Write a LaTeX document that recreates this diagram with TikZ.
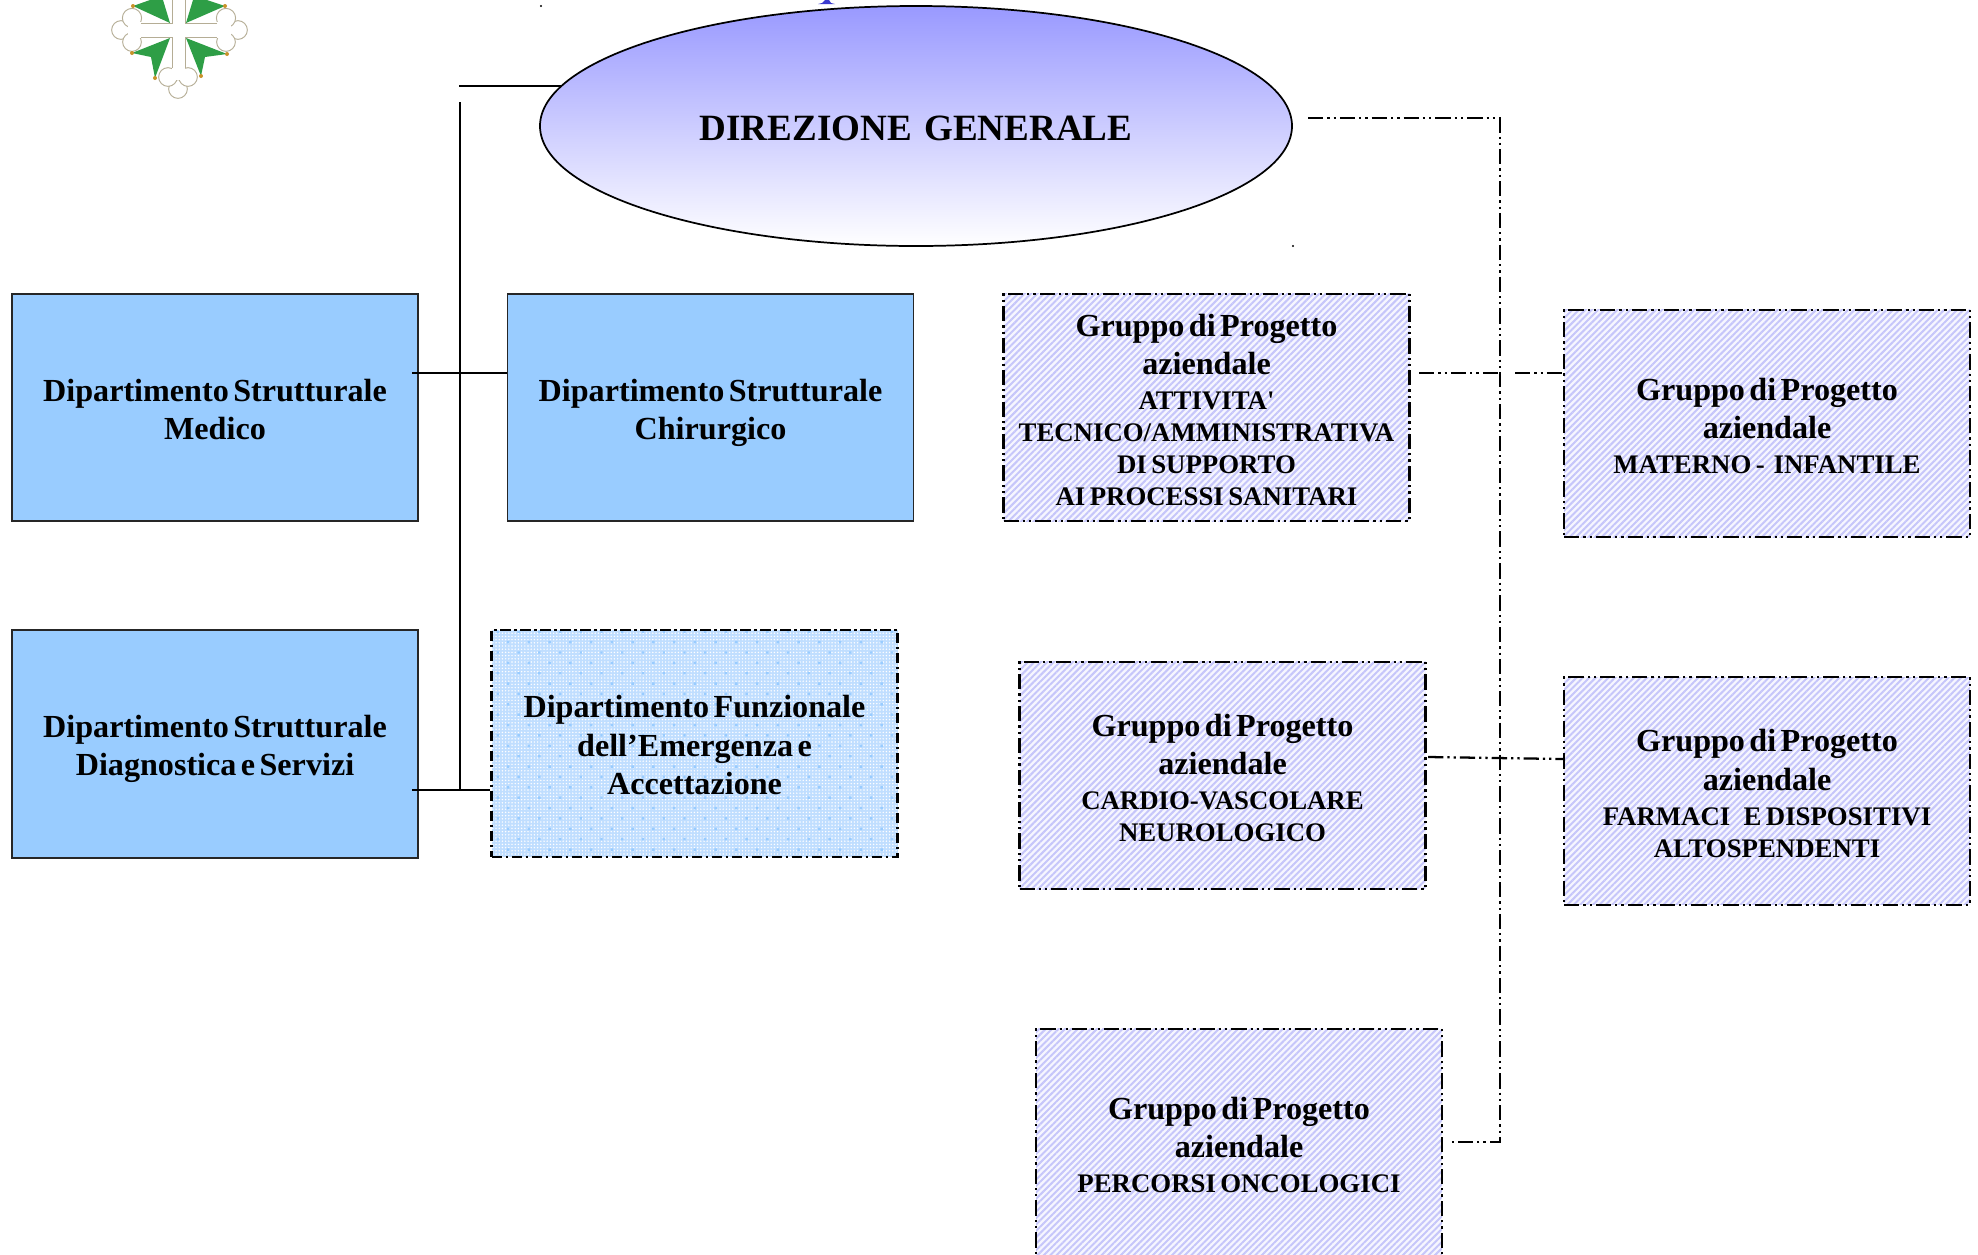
\documentclass[tikz,border=0pt]{standalone}
\usepackage{fontspec}
\setmainfont[WordSpace=1.35]{Liberation Serif}
\usetikzlibrary{patterns.meta,shapes.geometric}
\definecolor{deptblue}{HTML}{99CCFF}
\definecolor{ovaltop}{HTML}{9999FF}
\definecolor{hatchbase}{HTML}{F6F6FF}
\definecolor{hatchline}{HTML}{C6C6FA}
\definecolor{dotbase}{HTML}{C0DEFF}
\definecolor{logogreen}{HTML}{2E9E46}
\definecolor{logoline}{HTML}{B5AD95}
\definecolor{logogold}{HTML}{C8922A}
\definecolor{glyphblue}{HTML}{3A3ACF}
\newcommand{\headtxt}[1]{{\fontsize{24.1pt}{28.6pt}\selectfont\bfseries\rule{0pt}{27.5pt}#1\strut\par}}
\newcommand{\subtxt}[1]{{\fontsize{20.1pt}{24pt}\selectfont\bfseries\strut #1\strut\par}}
\tikzset{
  x=0.75pt,y=-0.75pt,
  boxbase/.style={rectangle,align=center,inner sep=0pt,minimum width=304.5pt,minimum height=170.5pt,text width=300pt,font=\bfseries},
  dd/.style={line width=1.7pt,dash pattern=on 11.5pt off 3pt on 1.7pt off 3pt on 1.7pt off 3pt},
  solidbox/.style={boxbase,draw=black!85,line width=1.3pt,fill=deptblue},
  hatchbox/.style={boxbase,dd,draw=black,preaction={fill=hatchbase},
    preaction={pattern={Lines[angle=45,distance=3.4pt,line width=1.5pt]},pattern color=hatchline}},
  dotbox/.style={boxbase,line width=1.7pt,draw=black,dash pattern=on 8pt off 2.5pt on 2pt off 2.5pt,preaction={fill=dotbase},
    preaction={pattern={Dots[distance=2.4pt,radius=0.6pt]},pattern color=white},
    preaction={pattern={Dots[distance=11pt,radius=1.3pt,angle=45]},pattern color=deptblue}},
  solidline/.style={line width=1.2pt,draw=black},
  ddline/.style={dd,draw=black},
  lobe/.style={draw=logoline,fill=white,line width=0.7pt},
  leaf/.style={fill=logogreen,draw=none},
  tip/.style={fill=logogold,draw=none},
}
\begin{document}
\begin{tikzpicture}
\clip (0,0) rectangle (1978,1254);
\fill[white] (0,0) rectangle (1978,1254);

% logo
\foreach \p in {121,238}{\filldraw[lobe] (\p,30) circle (7pt);}
\foreach \p in {132,226}{\filldraw[lobe] (\p,18) circle (7.2pt);\filldraw[lobe] (\p,42) circle (7pt);}
\filldraw[lobe] (178,89) circle (7pt);
\filldraw[lobe] (168,77) circle (7pt);
\filldraw[lobe] (188,77) circle (7pt);
\fill[white] (172,0) rectangle (185,80);
\fill[white] (128,22) rectangle (231,38);
\draw[logoline,line width=0.7pt] (141,23) -- (172,23) -- (172,0);
\draw[logoline,line width=0.7pt] (217,23) -- (185,23) -- (185,0);
\draw[logoline,line width=0.7pt] (141,37) -- (172,37) -- (172,68);
\draw[logoline,line width=0.7pt] (217,37) -- (185,37) -- (185,68);
\fill[leaf] (170,23) -- (133,6) -- (150,0) -- (163,0) -- cycle;
\fill[leaf] (186,23) -- (225,6) -- (207,0) -- (193,0) -- cycle;
\fill[leaf] (170,38) -- (132,53) -- (151,57) -- (155,78) -- cycle;
\fill[leaf] (186,38) -- (227,54) -- (205,57) -- (201,76) -- cycle;
\foreach \a/\b in {133/6,132/53,155/78,225/6,227/54,201/76}{\fill[tip] (\a,\b) circle (1.5pt);}

% specks and the cropped glyph at the top edge
\fill[black] (541,6) circle (0.9pt);
\fill[black] (1293,246) circle (0.9pt);
\fill[glyphblue] (818,4) -- (822,3) -- (825,0) -- (829,0) -- (831,3) -- (835,4) -- cycle;

% nodes
\node[ellipse,draw=black,line width=1.3pt,inner sep=0pt,minimum width=564pt,minimum height=180pt,
  top color=ovaltop,bottom color=white,font=\fontsize{27.8pt}{32pt}\selectfont\bfseries] (dg) at (916,126) {\rule{0pt}{22pt}DIREZIONE GENERALE};

\node[solidbox] (med) at (215,407.5) {\headtxt{Dipartimento Strutturale\\Medico}};
\node[solidbox] (chi) at (710.5,407.5) {\headtxt{Dipartimento Strutturale\\Chirurgico}};
\node[solidbox] (dia) at (215,744) {\headtxt{Dipartimento Strutturale\\Diagnostica e Servizi}};
\node[dotbox] (fun) at (694.5,743.5) {\headtxt{Dipartimento Funzionale\\dell’Emergenza e\\Accettazione}};

\node[hatchbox] (att) at (1206.5,407.5) {\headtxt{Gruppo di Progetto\\aziendale}\subtxt{ATTIVITA\textquotesingle\\TECNICO/AMMINISTRATIVA\\DI SUPPORTO\\AI PROCESSI SANITARI}};
\node[hatchbox] (mat) at (1767,423.5) {\headtxt{Gruppo di Progetto\\aziendale}\subtxt{MATERNO -\ \ INFANTILE}};
\node[hatchbox] (car) at (1222.5,775.5) {\headtxt{Gruppo di Progetto\\aziendale}\subtxt{CARDIO-VASCOLARE\\NEUROLOGICO}};
\node[hatchbox] (far) at (1767,791) {\headtxt{Gruppo di Progetto\\aziendale}\subtxt{FARMACI\ \ \ E DISPOSITIVI\\ALTOSPENDENTI}};
\node[hatchbox] (per) at (1239,1142.5) {\headtxt{Gruppo di Progetto\\aziendale}\subtxt{PERCORSI ONCOLOGICI}};

% junctions
\coordinate (dgStub) at (459,86);
\coordinate (dgIn) at (561,86);
\coordinate (trunkTop) at (460,102);
\coordinate (trunkBot) at (460,790);
\coordinate (medEnd) at (412,373);
\coordinate (chiIn) at (chi.west |- medEnd);
\coordinate (diaEnd) at (412,790);
\coordinate (dgOut) at (1308,118);
\coordinate (busTop) at (1500,118);
\coordinate (busBot) at (1500,1142);
\coordinate (perOut) at (1451,1142);
\coordinate (attOut) at (1419,373);
\coordinate (busAtt) at (1500,373);
\coordinate (matOut) at (1515,373);
\coordinate (carOut) at (1428,757);
\coordinate (farIn) at (1564,759);

% connectors
\draw[solidline] (dgStub) -- (dgIn);
\draw[solidline] (trunkTop) -- (trunkBot);
\draw[solidline] (medEnd) -- (chiIn);
\draw[solidline] (diaEnd) -- (fun.west |- diaEnd);
\draw[ddline] (dgOut) -- (busTop) -- (busBot) -- (perOut);
\draw[ddline] (attOut) -- (busAtt);
\draw[ddline] (matOut) -- (mat.west |- matOut);
\draw[ddline] (carOut) -- (far.west |- farIn);
\end{tikzpicture}
\end{document}
